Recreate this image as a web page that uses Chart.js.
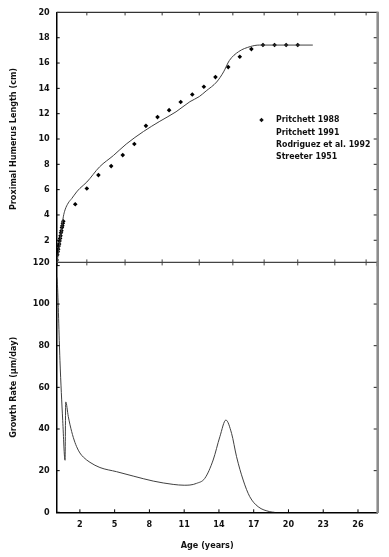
<!DOCTYPE html>
<html>
<head>
<meta charset="utf-8">
<script src="https://cdn.jsdelivr.net/npm/chart.js"></script>
<style>
  html, body { margin: 0; padding: 0; background: #fff; }
  #wrap { position: relative; width: 389px; height: 557px; }
  .panel { position: absolute; left: 0; width: 389px; }
  #topPanel { top: 0; height: 278px; }
  #bottomPanel { top: 250px; height: 307px; }
</style>
</head>
<body>
<div id="wrap">
  <div class="panel" id="topPanel"><canvas id="lengthChart" width="389" height="278"></canvas></div>
  <div class="panel" id="bottomPanel"><canvas id="rateChart" width="389" height="307"></canvas></div>
</div>
<script>
// Данные ----------------------------------------------------

// кривая роста (верхний график)
const fitAge    = [0, 0.2, 0.4, 0.57, 0.72, 1.0, 1.3, 1.72, 2.0, 2.6, 3.7, 4.9, 6.0, 7.5, 8.9, 10.3, 11.5, 12.3, 12.9, 13.8, 14.4, 14.9, 15.7, 16.7, 17.5, 22.1];
const fitLength = [0, 1.4, 2.7, 3.85, 4.4, 4.95, 5.3, 5.82, 6.1, 6.6, 7.8, 8.7, 9.6, 10.6, 11.4, 12.15, 12.95, 13.35, 13.8, 14.5, 15.3, 16.2, 16.9, 17.3, 17.42, 17.42];

// точки измерений после рождения
const pointAge    = [1.6, 2.6, 3.6, 4.7, 5.7, 6.7, 7.7, 8.7, 9.7, 10.7, 11.7, 12.7, 13.7, 14.8, 15.8, 16.8, 17.8, 18.8, 19.8, 20.8];
const pointLength = [4.85, 6.09, 7.15, 7.86, 8.73, 9.6, 11.04, 11.73, 12.28, 12.92, 13.52, 14.13, 14.89, 15.68, 16.5, 17.1, 17.42, 17.42, 17.42, 17.42];

// плотное облако точек у нуля
const earlyAge    = [0, 0.05, 0.09, 0.13, 0.17, 0.21, 0.25, 0.29, 0.33, 0.37, 0.41, 0.45, 0.49, 0.53, 0.57];
const earlyLength = [0.45, 0.85, 1.1, 1.3, 1.55, 1.7, 1.95, 2.15, 2.35, 2.6, 2.75, 3.0, 3.15, 3.35, 3.5];

// скорость роста (нижний график)
const rateAge = [0, 0.05, 0.28, 0.52, 0.72, 0.78, 1.0, 1.15, 1.43, 1.72, 2.0, 2.3, 2.87, 3.73, 5.17, 6.6, 8.33, 10.05, 11.0, 11.5, 12.07, 12.78, 13.5, 14.08, 14.6, 15.09, 15.52, 16.09, 16.66, 17.38, 18.39, 18.8];
const rateVal = [113, 111, 73, 44, 25, 53, 46, 42, 36, 31.5, 28.5, 26.5, 24, 21.5, 19.5, 17.4, 15, 13.4, 13.0, 13.1, 13.9, 16.3, 25.1, 36.3, 44.3, 37.9, 26.7, 15.5, 7.5, 2.7, 0.3, 0];

// подписи осей
const xTicks = [2, 5, 8, 11, 14, 17, 20, 23, 26];
const upperTicks = [2.6, 5.9, 9.1, 12.3, 15.2, 17.9, 20.8, 24.0, 26.7]; // засечки на верхних рамках
const legendLabels = ['Pritchett 1988', 'Pritchett 1991', 'Rodriguez et al. 1992', 'Streeter 1951'];
const xTitle = 'Age (years)';

// -------------------------------------------------------------
const FAMILY = '"DejaVu Sans Condensed", "DejaVu Sans", sans-serif';
const AXIS_LEFT = 56.7;
const X_MAX = 27.7;

const toXY = (xs, ys) => xs.map((v, i) => ({x: v, y: ys[i]}));

function line(ctx, x1, y1, x2, y2) {
  ctx.beginPath();
  ctx.moveTo(x1, y1);
  ctx.lineTo(x2, y2);
  ctx.stroke();
}

// рамка и засечки внутрь
const framePlugin = {
  id: 'frame',
  afterDraw(chart, args, opts) {
    const {ctx, chartArea: a, scales: {x, y}} = chart;
    const t = 3;
    ctx.save();

    // засечки на левой оси
    ctx.strokeStyle = '#000';
    ctx.lineWidth = 1;
    y.ticks.forEach(tk => {
      const py = y.getPixelForValue(tk.value);
      line(ctx, a.left, py, a.left + t, py);
    });

    // верхняя линия
    ctx.strokeStyle = opts.topColor;
    ctx.lineWidth = 1.4;
    line(ctx, a.left, a.top, a.right, a.top);
    ctx.lineWidth = 1;
    upperTicks.forEach(v => {
      const px = x.getPixelForValue(v);
      line(ctx, px, a.top - (opts.tickBoth ? t : 0), px, a.top + t);
    });

    // нижние засечки и подпись оси X
    if (opts.bottomTicks) {
      ctx.strokeStyle = '#000';
      xTicks.forEach(v => {
        const px = x.getPixelForValue(v);
        line(ctx, px, a.bottom, px, a.bottom - t);
      });
      ctx.font = `bold 9px ${FAMILY}`;
      ctx.fillStyle = '#111';
      ctx.textAlign = 'center';
      ctx.textBaseline = 'middle';
      ctx.fillText(xTitle, (a.left + a.right) / 2 - 10, a.bottom + 33);
    }

    // правая серая рамка
    ctx.strokeStyle = '#8c8c8c';
    ctx.lineWidth = 2.6;
    line(ctx, a.right, a.top - 0.7, a.right, a.bottom + 0.7);
    ctx.lineWidth = 1;
    ctx.strokeStyle = '#222';
    y.ticks.forEach(tk => {
      const py = y.getPixelForValue(tk.value);
      if (py > a.top + 2 && py < a.bottom - 2) line(ctx, a.right - 1, py, a.right - 1 - t, py);
    });
    ctx.restore();
  }
};

// легенда (рисуем вручную, как в оригинале — маркер только у первой строки)
const legendPlugin = {
  id: 'legendText',
  afterDraw(chart) {
    const {ctx} = chart;
    ctx.save();
    ctx.font = `bold 8.7px ${FAMILY}`;
    ctx.fillStyle = '#111';
    ctx.textBaseline = 'middle';
    legendLabels.forEach((txt, i) => ctx.fillText(txt, 276, 120 + i * 12.4));
    // маркер
    ctx.translate(261.5, 120);
    ctx.rotate(Math.PI / 4);
    ctx.fillRect(-1.6, -1.6, 3.2, 3.2);
    ctx.restore();
  }
};

const tickFont = {family: FAMILY, size: 9, weight: 'bold'};
const titleFont = {family: FAMILY, size: 9, weight: 'bold'};

function xScale(show) {
  return {
    type: 'linear',
    min: 0,
    max: X_MAX,
    display: show,
    afterBuildTicks: s => { s.ticks = xTicks.map(v => ({value: v})); },
    afterFit: s => { s.height = show ? 44.7 : 0; },
    grid: {display: false, drawTicks: false},
    border: {display: true, color: '#000', width: 1.5},
    ticks: {font: tickFont, color: '#111', padding: 7, autoSkip: false, maxRotation: 0}
  };
}

function yScale(max, step, title, hideZero) {
  return {
    type: 'linear',
    min: 0,
    max: max,
    afterFit: s => { s.width = AXIS_LEFT; },
    grid: {display: false, drawTicks: false},
    border: {display: true, color: '#000', width: 1.5},
    ticks: {
      stepSize: step,
      font: tickFont,
      color: '#111',
      padding: 7,
      callback: v => (hideZero && v === 0) ? '' : v
    },
    title: {display: true, text: title, font: titleFont, color: '#111', padding: {top: 8.6, bottom: 0}}
  };
}

const common = {
  responsive: false,
  animation: false,
  devicePixelRatio: 1,
  events: [],
  plugins: {legend: {display: false}, tooltip: {enabled: false}}
};

// Верхний график: длина кости
new Chart(document.getElementById('lengthChart'), {
  type: 'scatter',
  data: {
    datasets: [
      {
        type: 'line',
        data: toXY(fitAge, fitLength),
        borderColor: '#404040',
        borderWidth: 1,
        pointRadius: 0,
        cubicInterpolationMode: 'monotone'
      },
      {
        data: toXY(pointAge, pointLength),
        pointStyle: 'rectRot',
        pointRadius: 2.3,
        backgroundColor: '#000',
        borderWidth: 0
      },
      {
        data: toXY(earlyAge, earlyLength),
        pointStyle: 'rectRot',
        pointRadius: 2.3,
        backgroundColor: '#000',
        borderWidth: 0
      }
    ]
  },
  options: {
    ...common,
    layout: {padding: {top: 10, right: 11.3, bottom: 6, left: 0}},
    scales: {
      x: xScale(false),
      y: yScale(20, 2, 'Proximal Humerus Length (cm)', true)
    },
    plugins: {...common.plugins, frame: {topColor: '#333', tickBoth: false, bottomTicks: false}}
  },
  plugins: [framePlugin, legendPlugin]
});

// Нижний график: скорость роста
new Chart(document.getElementById('rateChart'), {
  type: 'line',
  data: {
    datasets: [{
      data: toXY(rateAge, rateVal),
      borderColor: '#404040',
      borderWidth: 1,
      pointRadius: 0,
      cubicInterpolationMode: 'monotone'
    }]
  },
  options: {
    ...common,
    layout: {padding: {top: 11.5, right: 11.3, bottom: 0, left: 0}},
    scales: {
      x: xScale(true),
      y: yScale(120, 20, 'Growth Rate (µm/day)', false)
    },
    plugins: {...common.plugins, frame: {topColor: '#444', tickBoth: true, bottomTicks: true}}
  },
  plugins: [framePlugin]
});
</script>
</body>
</html>
